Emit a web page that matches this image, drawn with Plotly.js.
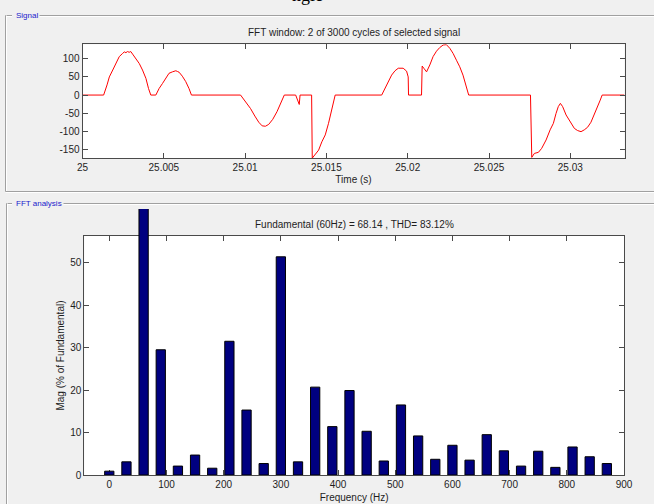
<!DOCTYPE html>
<html><head><meta charset="utf-8">
<script src="https://cdn.plot.ly/plotly-3.0.1.min.js"></script>
<style>html,body{margin:0;padding:0;background:#f0f0f0;}#chart{width:654px;height:504px;}</style>
</head><body><div id="chart"></div>
<script>
// ---- Signal (FFT window, 2 cycles) ----
const signalTime = [
  25.00000, 25.00130, 25.00151, 25.00165, 25.00186, 25.00206, 25.00226, 25.00247, 25.00257, 25.00267,
  25.00277, 25.00287, 25.00297, 25.00308, 25.00328, 25.00349, 25.00369, 25.00390, 25.00406, 25.00420,
  25.00451, 25.00471, 25.00492, 25.00512, 25.00532, 25.00553, 25.00574, 25.00584, 25.00594, 25.00614,
  25.00635, 25.00655, 25.00670, 25.00972, 25.01002, 25.01033, 25.01060, 25.01084, 25.01105, 25.01125,
  25.01145, 25.01170, 25.01196, 25.01219, 25.01241, 25.01311, 25.01321, 25.01333, 25.01338, 25.01409,
  25.01413, 25.01431, 25.01452, 25.01472, 25.01493, 25.01513, 25.01534, 25.01554, 25.01840, 25.01860,
  25.01881, 25.01901, 25.01922, 25.01942, 25.01972, 25.01993, 25.02003, 25.02005, 25.02085, 25.02089,
  25.02099, 25.02116, 25.02136, 25.02156, 25.02177, 25.02197, 25.02218, 25.02238, 25.02259, 25.02279,
  25.02300, 25.02320, 25.02340, 25.02361, 25.02375, 25.02755, 25.02759, 25.02763, 25.02779, 25.02804,
  25.02824, 25.02851, 25.02876, 25.02896, 25.02912, 25.02926, 25.02939, 25.02953, 25.02974, 25.03000,
  25.03025, 25.03045, 25.03066, 25.03086, 25.03106, 25.03127, 25.03147, 25.03167, 25.03184, 25.03196,
  25.03333
];
const signalValue = [
  0, 0, 28, 50, 69, 87, 106, 115, 119, 117,
  120, 118, 120, 113, 101, 87, 69, 46, 18, 0,
  0, 18, 32, 48, 60, 64, 67, 65, 63, 52,
  37, 18, 0, 0, -18, -37, -58, -75, -85, -86,
  -81, -67, -46, -23, 0, 0, -14, -26, 0, 0,
  -174, -163, -152, -129, -110, -78, -37, 0, 0, 18,
  37, 55, 67, 74, 74, 66, 50, 0, 0, 80,
  74, 64, 83, 106, 121, 131, 138, 139, 129, 115,
  96, 78, 55, 23, 0, 0, -124, -172, -161, -158,
  -147, -124, -96, -78, -51, -32, -23, -32, -55, -75,
  -92, -98, -101, -96, -89, -75, -55, -32, -14, 0,
  0
];

// ---- FFT analysis ----
const freqHz = [0, 30, 60, 90, 120, 150, 180, 210, 240, 270, 300, 330, 360, 390, 420,
                450, 480, 510, 540, 570, 600, 630, 660, 690, 720, 750, 780, 810, 840, 870];
const magPct = [0.9, 3.1, 100, 29.5, 2.1, 4.7, 1.6, 31.5, 15.3, 2.7, 51.4, 3.1, 20.7, 11.4, 19.9,
                10.3, 3.3, 16.5, 9.2, 3.7, 7.0, 3.5, 9.5, 5.7, 2.1, 5.6, 1.8, 6.6, 4.3, 2.7];

const signalTitle = 'FFT window: 2 of 3000 cycles of selected signal';
const fftTitle = 'Fundamental (60Hz) = 68.14 , THD= 83.12%';
const timeTickVals = [25, 25.005, 25.01, 25.015, 25.02, 25.025, 25.03];
const timeTickText = ['25', '25.005', '25.01', '25.015', '25.02', '25.025', '25.03'];
const sigTickVals = [-150, -100, -50, 0, 50, 100];
const sigTickText = ['-150', '-100', '-50', '0', '50', '100'];
const freqTickVals = [0, 100, 200, 300, 400, 500, 600, 700, 800, 900];
const magTickVals = [0, 10, 20, 30, 40, 50];

// ---- layout helpers (pixel -> paper) ----
const W = 654, H = 504;
const px = x => x / W;
const py = y => 1 - y / H;

const FONT = {family: 'Liberation Sans, Arial, sans-serif', size: 10, color: '#1e1e1e'};
const AX = '#4a4a4a';

function etchedH(x0, x1, y) {
  return [
    {type: 'line', xref: 'paper', yref: 'paper', x0: px(x0), x1: px(x1), y0: py(y), y1: py(y), line: {color: '#a0a0a0', width: 1}},
    {type: 'line', xref: 'paper', yref: 'paper', x0: px(x0), x1: px(x1), y0: py(y + 1), y1: py(y + 1), line: {color: '#ffffff', width: 1}}
  ];
}
function etchedV(x, y0, y1) {
  return [
    {type: 'line', xref: 'paper', yref: 'paper', x0: px(x), x1: px(x), y0: py(y0), y1: py(y1), line: {color: '#a0a0a0', width: 1}},
    {type: 'line', xref: 'paper', yref: 'paper', x0: px(x + 1), x1: px(x + 1), y0: py(y0), y1: py(y1), line: {color: '#ffffff', width: 1}}
  ];
}
function whiteBox(x0, x1, y0, y1) {
  return {type: 'rect', layer: 'below', xref: 'paper', yref: 'paper', x0: px(x0), x1: px(x1), y0: py(y1), y1: py(y0),
          fillcolor: '#ffffff', line: {width: 0}};
}

const SIG = {x0: 82.5, x1: 624.5, y0: 44.3, y1: 158.3};
const FFT = {x0: 84.3, x1: 624, y0: 236, y1: 475, clipTop: 209};

const shapes = [
  whiteBox(SIG.x0, SIG.x1, SIG.y0, SIG.y1),
  whiteBox(FFT.x0, FFT.x1, FFT.y0, FFT.y1)
].concat(
  etchedH(5.5, 12, 15.5), etchedH(38, 654, 15.5), etchedV(5.5, 15.5, 191.5), etchedH(5.5, 654, 191.5),
  etchedH(6.5, 12, 203.5), etchedH(61, 654, 203.5), etchedV(6.5, 203.5, 506)
);

const traces = [
  {x: signalTime, y: signalValue, type: 'scatter', mode: 'lines', xaxis: 'x', yaxis: 'y',
   line: {color: '#ff0000', width: 1}, hoverinfo: 'skip', showlegend: false},
  // empty trace: only creates the framed FFT axes subplot
  {x: [], y: [], type: 'scatter', mode: 'lines', xaxis: 'x2', yaxis: 'y2', hoverinfo: 'skip', showlegend: false},
  {x: freqHz, y: magPct, type: 'bar', xaxis: 'x2', yaxis: 'y3',
   marker: {color: '#000080', line: {color: '#000000', width: 1}}, hoverinfo: 'skip', showlegend: false}
];

const commonAxis = {
  showline: true, linecolor: AX, linewidth: 1, mirror: 'ticks', ticks: 'inside', ticklen: 5,
  tickcolor: AX, tickwidth: 1, showgrid: false, zeroline: false, tickfont: FONT, fixedrange: true
};

const layout = {
  width: W, height: H,
  margin: {l: 0, r: 0, t: 0, b: 0, pad: 0},
  paper_bgcolor: '#f0f0f0', plot_bgcolor: 'rgba(0,0,0,0)',
  showlegend: false, bargap: 0.46,
  font: FONT,
  xaxis: Object.assign({}, commonAxis, {
    domain: [px(SIG.x0), px(SIG.x1)], anchor: 'y', range: [25, 25.033333],
    tickmode: 'array', tickvals: timeTickVals, ticktext: timeTickText,
    title: {text: 'Time (s)', font: FONT, standoff: 3}
  }),
  yaxis: Object.assign({}, commonAxis, {
    domain: [py(SIG.y1), py(SIG.y0)], anchor: 'x', range: [-174.5, 140],
    tickmode: 'array', tickvals: sigTickVals, ticktext: sigTickText
  }),
  xaxis2: Object.assign({}, commonAxis, {
    domain: [px(FFT.x0), px(FFT.x1)], anchor: 'y2', range: [-43.7, 900],
    tickmode: 'array', tickvals: freqTickVals,
    title: {text: 'Frequency (Hz)', font: FONT, standoff: 4}
  }),
  yaxis2: Object.assign({}, commonAxis, {
    domain: [py(FFT.y1), py(FFT.y0)], anchor: 'x2', range: [0, 56.3],
    tickmode: 'array', tickvals: magTickVals,
    title: {text: 'Mag (% of Fundamental)', font: FONT, standoff: 3}
  }),
  yaxis3: {
    domain: [py(FFT.y1), py(FFT.clipTop)], anchor: 'x2',
    range: [0, 56.3 * (FFT.y1 - FFT.clipTop) / (FFT.y1 - FFT.y0)],
    visible: false, showgrid: false, zeroline: false, fixedrange: true
  },
  shapes: shapes,
  annotations: [
    {text: signalTitle, xref: 'paper', yref: 'paper', x: px(353.5), y: py(33), xanchor: 'center', yanchor: 'middle', showarrow: false, font: FONT},
    {text: fftTitle, xref: 'paper', yref: 'paper', x: px(354), y: py(225), xanchor: 'center', yanchor: 'middle', showarrow: false, font: FONT},
    {text: 'Signal', xref: 'paper', yref: 'paper', x: px(14), y: py(15.5), xanchor: 'left', yanchor: 'middle', showarrow: false,
     font: {family: 'Liberation Sans, Arial, sans-serif', size: 8, color: '#1a1acc'}, bgcolor: '#f0f0f0'},
    {text: 'FFT analysis', xref: 'paper', yref: 'paper', x: px(14), y: py(203.5), xanchor: 'left', yanchor: 'middle', showarrow: false,
     font: {family: 'Liberation Sans, Arial, sans-serif', size: 8, color: '#1a1acc'}, bgcolor: '#f0f0f0'},
    {text: 'ngle', xref: 'paper', yref: 'paper', x: px(307), y: py(-5), xanchor: 'center', yanchor: 'middle', showarrow: false,
     font: {family: 'Liberation Serif, serif', size: 18, color: '#000000'}}
  ]
};

Plotly.newPlot('chart', traces, layout, {staticPlot: true, displayModeBar: false});
</script>
</body></html>
